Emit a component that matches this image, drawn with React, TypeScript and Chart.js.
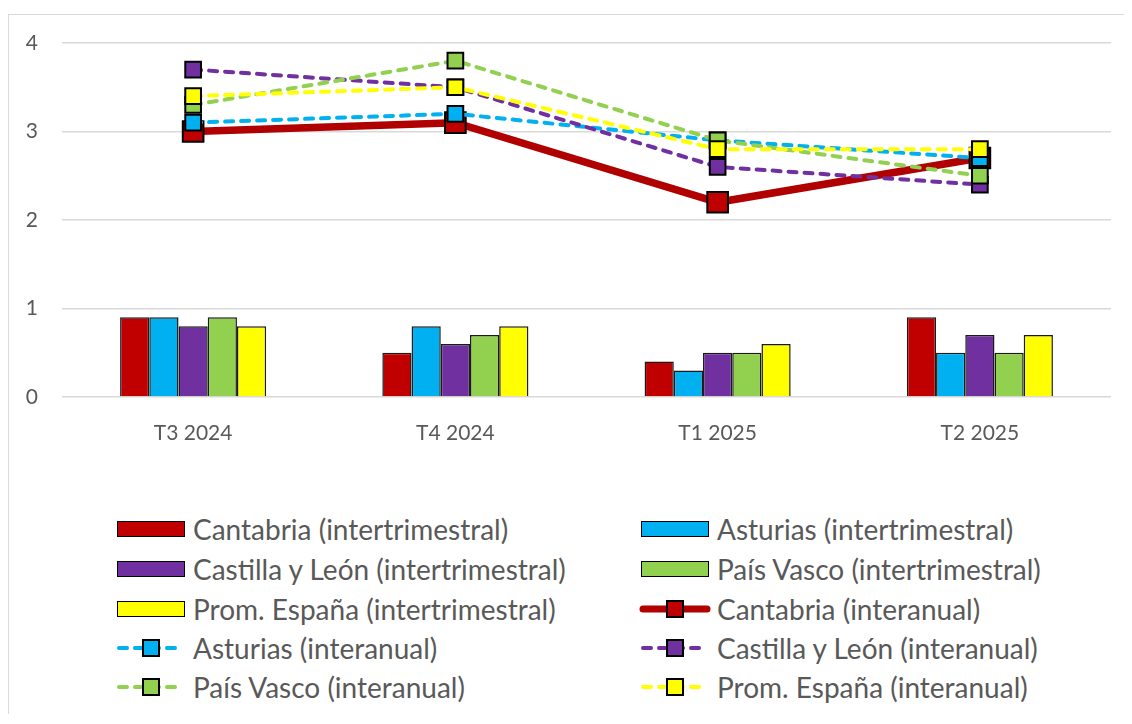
import React, { useEffect, useRef } from "react";
import { Chart, registerables } from "chart.js";

Chart.register(...registerables);

const categories = ["T3 2024", "T4 2024", "T1 2025", "T2 2025"];
const yTicks = [0, 1, 2, 3, 4];

const regions = ["Cantabria", "Asturias", "Castilla y León", "País Vasco", "Prom. España"];
const colors = ["#C00000", "#00B0F0", "#7030A0", "#92D050", "#FFFF00"];

// intertrimestral (bars)
const cantabriaQ = [0.9, 0.5, 0.4, 0.9];
const asturiasQ = [0.9, 0.8, 0.3, 0.5];
const castillaQ = [0.8, 0.6, 0.5, 0.7];
const paisVascoQ = [0.9, 0.7, 0.5, 0.5];
const espanaQ = [0.8, 0.8, 0.6, 0.7];

// interanual (lines)
const cantabriaY = [3.0, 3.1, 2.2, 2.7];
const asturiasY = [3.1, 3.2, 2.9, 2.7];
const castillaY = [3.7, 3.5, 2.6, 2.4];
const paisVascoY = [3.3, 3.8, 2.9, 2.5];
const espanaY = [3.4, 3.5, 2.8, 2.8];

const barSeries = [cantabriaQ, asturiasQ, castillaQ, paisVascoQ, espanaQ];
const lineSeries = [cantabriaY, asturiasY, castillaY, paisVascoY, espanaY];

const FONT = "Lato, 'Open Sans', sans-serif";
const TEXT = "#595959";
const LINE_RED = "#B00000";

type LegendItem = { label: string; kind: "bar" | "line"; color: string; solid?: boolean };

const legendItems: LegendItem[] = [
  ...regions.map((r, i) => ({ label: `${r} (intertrimestral)`, kind: "bar" as const, color: colors[i] })),
  ...regions.map((r, i) => ({
    label: `${r} (interanual)`,
    kind: "line" as const,
    color: i === 0 ? LINE_RED : colors[i],
    solid: i === 0,
  })),
];

function Swatch({ item }: { item: LegendItem }) {
  if (item.kind === "bar") {
    return (
      <div
        style={{
          width: 68,
          height: 16,
          boxSizing: "border-box",
          border: "1.5px solid #000",
          background: item.color,
        }}
      />
    );
  }
  return (
    <svg width={72} height={24} style={{ display: "block" }}>
      <line
        x1={4}
        y1={12}
        x2={68}
        y2={12}
        stroke={item.color}
        strokeWidth={item.solid ? 7 : 4}
        strokeLinecap="round"
        strokeDasharray={item.solid ? undefined : "8 8"}
      />
      <rect x={28} y={4} width={16} height={16} fill={item.solid ? "#C00000" : item.color} stroke="#000" strokeWidth={2} />
    </svg>
  );
}

export default function App() {
  const ref = useRef<HTMLCanvasElement | null>(null);

  useEffect(() => {
    document.body.style.overflow = "hidden";
    const ctx = ref.current;
    if (!ctx) return;
    const datasets: any[] = [];
    barSeries.forEach((data, i) => {
      datasets.push({
        type: "bar",
        label: `${regions[i]} (intertrimestral)`,
        data,
        backgroundColor: colors[i],
        borderColor: "#1a1a1a",
        borderWidth: 1.5,
        order: 10,
        barPercentage: 1,
        categoryPercentage: 0.557,
      });
    });
    lineSeries.forEach((data, i) => {
      const cant = i === 0;
      datasets.push({
        type: "line",
        label: `${regions[i]} (interanual)`,
        data,
        borderColor: cant ? LINE_RED : colors[i],
        borderWidth: cant ? 7.5 : 4,
        borderDash: cant ? [] : [8, 8],
        borderCapStyle: "round",
        fill: false,
        tension: 0,
        clip: false,
        pointStyle: "rect",
        pointRadius: cant ? 14.6 : 11.1,
        pointHoverRadius: cant ? 14.6 : 11.1,
        pointBackgroundColor: colors[i],
        pointBorderColor: "#000",
        pointBorderWidth: 2,
        order: 5 - i,
      });
    });

    const chart = new Chart(ctx, {
      type: "bar",
      data: { labels: categories, datasets },
      options: {
        responsive: false,
        animation: false,
        layout: { autoPadding: false, padding: { top: 28, right: 13, bottom: 18, left: 0 } },
        plugins: { legend: { display: false }, tooltip: { enabled: false } },
        scales: {
          x: {
            grid: { display: false },
            border: { display: false },
            ticks: { color: TEXT, font: { family: FONT, size: 21 }, padding: 16 },
            afterFit: (s: any) => {
              s.height = 60;
              s.paddingLeft = 0;
              s.paddingRight = 0;
            },
          },
          y: {
            min: yTicks[0],
            max: yTicks[yTicks.length - 1],
            afterBuildTicks: (s: any) => {
              s.ticks = yTicks.map((v) => ({ value: v }));
            },
            ticks: { color: TEXT, font: { family: FONT, size: 21 }, padding: 24 },
            grid: { color: "#d9d9d9", lineWidth: 1.5, drawTicks: false },
            border: { display: false },
            afterFit: (s: any) => {
              s.width = 53;
              s.paddingTop = 0;
              s.paddingBottom = 0;
            },
          },
        },
      } as any,
    });
    return () => chart.destroy();
  }, []);

  const rowY = [514, 554, 594, 633, 672];

  return (
    <div
      style={{
        position: "relative",
        marginTop: 6,
        width: 1116,
        height: 700,
        boxSizing: "border-box",
        borderLeft: "1px solid #d9d9d9",
        borderTop: "1px solid #d9d9d9",
        fontFamily: FONT,
      }}
    >
      <canvas ref={ref} width={1115} height={460} style={{ position: "absolute", left: 0, top: 0, width: 1115, height: 460 }} />
      {legendItems.map((item, idx) => {
        const col = idx % 2;
        const row = Math.floor(idx / 2);
        const swX = col === 0 ? 108 : 632;
        const txX = col === 0 ? 184 : 708;
        const cy = rowY[row];
        return (
          <React.Fragment key={idx}>
            <div
              style={{
                position: "absolute",
                left: item.kind === "bar" ? swX : swX - 2,
                top: item.kind === "bar" ? cy - 8 : cy - 12,
              }}
            >
              <Swatch item={item} />
            </div>
            <div
              style={{
                position: "absolute",
                left: txX,
                top: cy - 17,
                height: 34,
                lineHeight: "34px",
                fontSize: 28,
                color: TEXT,
                whiteSpace: "nowrap",
              }}
            >
              {item.label}
            </div>
          </React.Fragment>
        );
      })}
    </div>
  );
}
